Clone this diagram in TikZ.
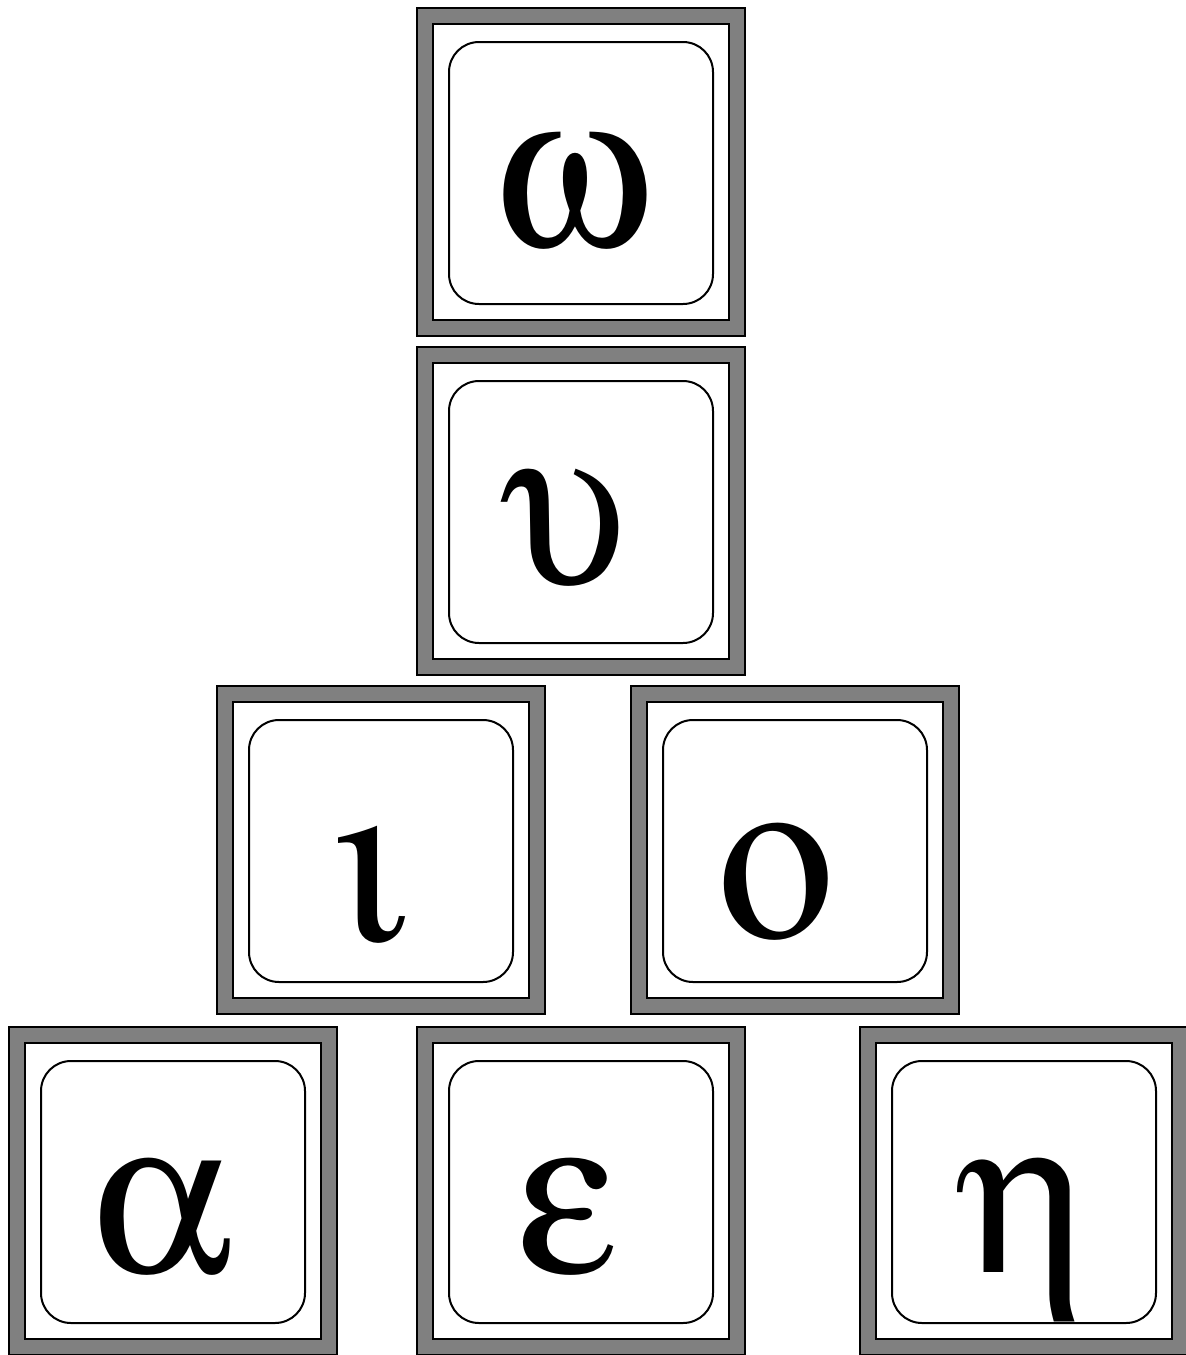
\documentclass[tikz,border=0pt]{standalone}
\usepackage[Symbol]{upgreek}
\newcommand{\upomicronletter}{\text{\usefont{U}{psy}{m}{n}o}}
\usepackage{amsmath}
\tikzset{
  outerframe/.style={draw=black, fill=gray, line width=2.2pt, rectangle, minimum size=328pt, inner sep=0pt},
  innerframe/.style={draw=black, fill=white, line width=2.2pt, rectangle, minimum size=296pt, inner sep=0pt},
  face/.style={draw=black, fill=white, line width=2pt, rectangle, rounded corners=30pt, minimum width=264pt, minimum height=262pt, inner sep=0pt},
  glyph/.style={inner sep=0pt, anchor=base, font=\fontsize{223}{223}\selectfont}
}
% #1 name, #2 #3 block centre, #4 #5 letter base point, #6 letter
\newcommand{\vowelblock}[6]{%
  \node[outerframe] (#1-o) at (#2,#3) {};
  \node[innerframe] (#1-i) at (#2,#3) {};
  \node[face] (#1-f) at (#2,#3+1) {};
  \node[glyph] (#1) at (#4,#5) {$#6$};
}
\begin{document}
\begin{tikzpicture}[x=1pt,y=-1pt]
\useasboundingbox (0,0) rectangle (1186,1355);
\vowelblock{omega}{581}{172}{571}{246}{\upomega}
\vowelblock{upsilon}{581}{511}{563.5}{583}{\upupsilon}
\vowelblock{iota}{381}{850}{375}{940}{\upiota}
\vowelblock{omicron}{795}{850}{777.5}{937}{\upomicronletter}
\vowelblock{alpha}{173}{1191}{162}{1272}{\upalpha}
\vowelblock{epsilon}{581}{1191}{567}{1272}{\upepsilon}
\vowelblock{eta}{1024}{1191}{1025}{1272}{\upeta}
\end{tikzpicture}
\end{document}
